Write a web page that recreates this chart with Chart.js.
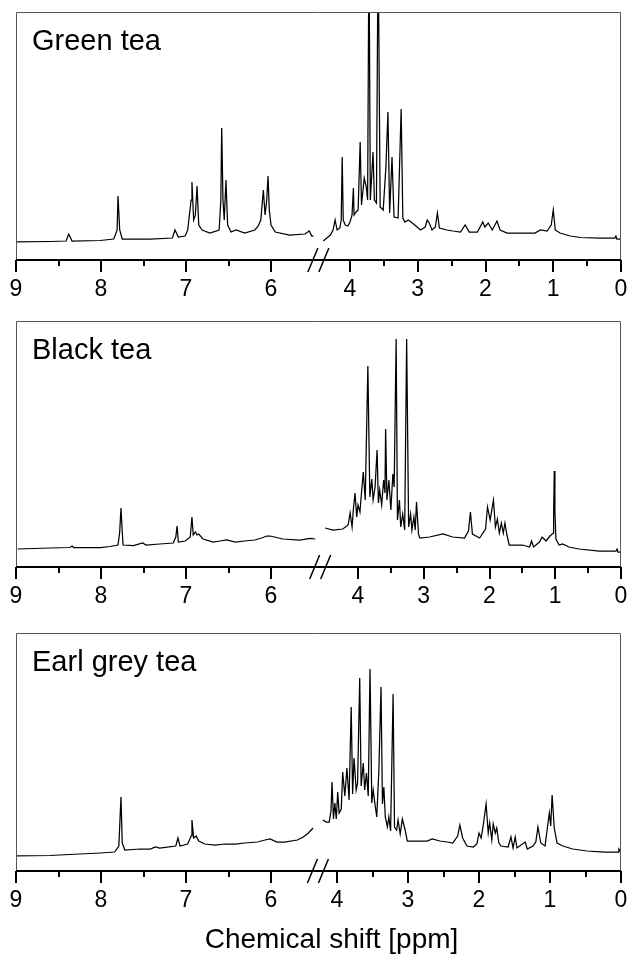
<!DOCTYPE html>
<html>
<head>
<meta charset="utf-8">
<script src="https://cdn.jsdelivr.net/npm/chart.js@4.4.1/dist/chart.umd.min.js"></script>
<style>
html, body { margin: 0; padding: 0; background: #fff; }
#wrap { position: relative; width: 629px; height: 955px; }
canvas { position: absolute; left: 0; }
</style>
</head>
<body>
<div id="wrap">
  <canvas id="green" width="629" height="305" style="top:0px"></canvas>
  <canvas id="black" width="629" height="307" style="top:305px"></canvas>
  <canvas id="earl" width="629" height="343" style="top:612px"></canvas>
</div>
<script>
// x ticks (ppm), both sides of the axis break
const tickValues = [9, 8.5, 8, 7.5, 7, 6.5, 6, 4, 3.5, 3, 2.5, 2, 1.5, 1, 0.5, 0];

// Green tea
const greenLeftPpm = [
  9.00, 8.60, 8.41, 8.38, 8.34, 8.01, 7.85, 7.81, 7.80, 7.78,
  7.75, 7.42, 7.16, 7.13, 7.09, 7.01, 6.98, 6.94, 6.93, 6.91,
  6.89, 6.87, 6.85, 6.81, 6.72, 6.61, 6.59, 6.58, 6.565, 6.55,
  6.53, 6.51, 6.47, 6.41, 6.31, 6.19, 6.15, 6.12, 6.09, 6.07,
  6.05, 6.035, 6.02, 6.00, 5.95, 5.78, 5.60, 5.55, 5.52, 5.50];
const greenLeftInt = [
  18, 18.5, 19, 26, 19, 19.5, 21, 30, 64, 30,
  21, 21, 22, 30, 23, 24, 30, 60, 78, 40,
  45, 74, 35, 30, 27, 30, 60, 132, 60, 40,
  80, 35, 28, 30, 27, 30, 34, 40, 70, 45,
  60, 84, 50, 35, 28, 25, 26, 29, 24, 24];
const greenRightPpm = [
  4.395, 4.29, 4.25, 4.22, 4.19, 4.15, 4.13, 4.115, 4.10, 4.07,
  4.03, 4.00, 3.97, 3.95, 3.94, 3.91, 3.88, 3.85, 3.83, 3.79,
  3.76, 3.74, 3.72, 3.70, 3.66, 3.64, 3.61, 3.585, 3.555, 3.51,
  3.47, 3.44, 3.415, 3.38, 3.35, 3.29, 3.245, 3.22, 3.19, 3.14,
  3.08, 3.01, 2.96, 2.89, 2.86, 2.83, 2.79, 2.74, 2.71, 2.68,
  2.57, 2.48, 2.37, 2.30, 2.24, 2.12, 2.04, 2.01, 1.96, 1.90,
  1.83, 1.785, 1.68, 1.56, 1.39, 1.27, 1.19, 1.09, 1.03, 1.00,
  0.97, 0.90, 0.75, 0.60, 0.31, 0.09, 0.075, 0.06, 0.00];
const greenRightInt = [
  19, 25, 30, 40, 30, 32, 40, 103, 40, 35,
  34, 38, 45, 72, 45, 48, 50, 118, 55, 82,
  73, 60, 320, 60, 108, 60, 57, 320, 53, 50,
  93, 148, 47, 103, 43, 42, 151, 42, 38, 40,
  37, 33, 30, 33, 40, 37, 30, 33, 47, 32,
  30, 29, 28, 35, 28, 28, 38, 33, 37, 30,
  39, 30, 27, 27, 27, 27, 30, 29, 35, 50,
  30, 27, 24, 22.5, 22, 22, 24, 21, 21];

// Black tea
const blackLeftPpm = [
  8.98, 8.60, 8.365, 8.34, 8.32, 8.01, 7.89, 7.80, 7.78, 7.765,
  7.75, 7.74, 7.62, 7.51, 7.47, 7.31, 7.15, 7.12, 7.105, 7.09,
  7.01, 6.95, 6.93, 6.915, 6.89, 6.87, 6.85, 6.80, 6.68, 6.60,
  6.52, 6.42, 6.31, 6.19, 6.11, 6.05, 6.01, 5.96, 5.86, 5.66,
  5.54, 5.48];
const blackLeftInt = [
  18, 19, 19.5, 21, 19.5, 19.5, 20.5, 22, 35, 59,
  35, 22, 21.5, 24, 22, 23, 24, 30, 41, 25,
  26, 30, 50, 32, 35, 32, 33, 28, 25, 26,
  27, 25, 26, 27, 29, 31, 31, 30, 28, 27,
  28.5, 28];
const blackRightPpm = [
  4.50, 4.38, 4.23, 4.15, 4.12, 4.09, 4.07, 4.045, 4.02, 4.00,
  3.97, 3.95, 3.92, 3.89, 3.85, 3.82, 3.79, 3.77, 3.74, 3.71,
  3.69, 3.67, 3.64, 3.61, 3.59, 3.58, 3.56, 3.53, 3.50, 3.47,
  3.45, 3.42, 3.40, 3.37, 3.35, 3.32, 3.29, 3.26, 3.23, 3.20,
  3.18, 3.15, 3.13, 3.11, 3.08, 3.06, 2.91, 2.71, 2.56, 2.38,
  2.32, 2.29, 2.26, 2.15, 2.06, 2.03, 1.99, 1.94, 1.91, 1.88,
  1.85, 1.82, 1.79, 1.765, 1.735, 1.70, 1.50, 1.39, 1.36, 1.33,
  1.24, 1.20, 1.14, 1.08, 1.03, 1.025, 1.015, 1.005, 0.99, 0.94,
  0.89, 0.79, 0.64, 0.33, 0.076, 0.06, 0.045, 0.00];
const blackRightInt = [
  39, 37, 38, 42, 54, 40, 58, 74, 50, 62,
  55, 72, 95, 67, 201, 70, 88, 67, 80, 117,
  64, 77, 62, 87, 74, 138, 67, 87, 57, 93,
  80, 228, 47, 67, 40, 53, 37, 228, 40, 53,
  37, 50, 37, 65, 33, 29, 30, 33, 30, 29,
  36, 55, 33, 29, 38, 60, 47, 67, 40, 48,
  34, 44, 34, 44, 32, 22, 22, 20, 26, 20,
  25, 30, 26, 31, 34, 50, 96, 55, 28, 22,
  23, 20, 18, 16, 16, 18, 15, 15];

// Earl grey tea
const earlLeftPpm = [
  9.00, 8.60, 8.25, 8.01, 7.84, 7.79, 7.765, 7.75, 7.72, 7.54,
  7.42, 7.36, 7.31, 7.12, 7.095, 7.07, 6.98, 6.94, 6.93, 6.91,
  6.88, 6.85, 6.78, 6.66, 6.54, 6.42, 6.31, 6.16, 6.07, 6.01,
  5.93, 5.84, 5.69, 5.62, 5.56, 5.505];
const earlLeftInt = [
  15, 15.5, 17, 18, 19, 25, 74, 28, 21, 22,
  22, 24, 23, 25, 33, 25, 27, 35, 51, 33,
  35, 30, 27, 26, 27, 27, 28, 29, 31, 32,
  29, 29, 31, 34, 38, 43];
const earlRightPpm = [
  4.20, 4.15, 4.11, 4.085, 4.07, 4.05, 4.03, 4.01, 3.99, 3.97,
  3.94, 3.92, 3.89, 3.86, 3.83, 3.80, 3.78, 3.76, 3.73, 3.71,
  3.68, 3.66, 3.63, 3.61, 3.585, 3.56, 3.535, 3.51, 3.49, 3.46,
  3.44, 3.41, 3.38, 3.36, 3.34, 3.32, 3.29, 3.27, 3.245, 3.21,
  3.19, 3.16, 3.14, 3.11, 3.08, 3.04, 3.01, 2.93, 2.83, 2.73,
  2.66, 2.55, 2.45, 2.37, 2.30, 2.27, 2.23, 2.17, 2.08, 2.03,
  2.00, 1.97, 1.94, 1.90, 1.87, 1.85, 1.82, 1.80, 1.77, 1.75,
  1.72, 1.69, 1.59, 1.55, 1.52, 1.49, 1.465, 1.35, 1.32, 1.24,
  1.20, 1.17, 1.13, 1.07, 1.01, 0.99, 0.97, 0.94, 0.90, 0.82,
  0.68, 0.48, 0.23, 0.04, 0.03, 0.00];
const earlRightInt = [
  51, 49, 49, 60, 89, 52, 68, 52, 79, 58,
  62, 99, 75, 103, 71, 164, 77, 113, 81, 88,
  193, 85, 108, 81, 98, 75, 202, 68, 81, 64,
  54, 101, 184, 67, 84, 54, 44, 54, 40, 177,
  44, 41, 51, 37, 52, 41, 30, 30, 30, 30,
  32, 30, 29, 28, 35, 46, 33, 25, 24, 27,
  38, 33, 46, 67, 38, 48, 31, 47, 38, 43,
  28, 25, 24, 34, 23, 34, 23, 29, 22, 25,
  29, 44, 28, 25, 58, 45, 76, 43, 28, 25,
  22, 20, 19, 19, 22, 19];

const FONT = '"Liberation Sans", Arial, sans-serif';

// linear ppm axis with a break: values above `split` use the left scale,
// the rest use the right scale (0 at the right edge)
class BrokenScale extends Chart.LinearScale {
  buildTicks() {
    return this.options.brk.marks.map(v => ({ value: v }));
  }
  getPixelForValue(v) {
    const b = this.options.brk;
    const w = this.right - this.left;
    if (v > b.split) return this.left + (9 - v) * w / b.leftSpan;
    return this.right - v * w / b.rightSpan;
  }
  getValueForPixel(px) {
    const b = this.options.brk;
    const w = this.right - this.left;
    const v = 9 - (px - this.left) * b.leftSpan / w;
    return v > b.split ? v : (this.right - px) * b.rightSpan / w;
  }
}
BrokenScale.id = 'broken';
BrokenScale.defaults = Chart.LinearScale.defaults;
Chart.register(BrokenScale);

// frame, ticks, break marks and texts
const framePlugin = {
  id: 'frame',
  afterDraw(chart, args, opts) {
    const ctx = chart.ctx, a = chart.chartArea, xs = chart.scales.x;
    ctx.save();
    ctx.strokeStyle = '#555';
    ctx.lineWidth = 1;
    ctx.beginPath();
    ctx.moveTo(a.left + 0.5, a.bottom);
    ctx.lineTo(a.left + 0.5, a.top + 0.5);
    ctx.lineTo(a.right - 0.5, a.top + 0.5);
    ctx.lineTo(a.right - 0.5, a.bottom);
    ctx.stroke();

    ctx.strokeStyle = '#000';
    ctx.lineWidth = 2;
    ctx.beginPath();
    ctx.moveTo(a.left, a.bottom);
    ctx.lineTo(a.right, a.bottom);
    xs.ticks.forEach(t => {
      const px = Math.round(xs.getPixelForValue(t.value));
      const len = Number.isInteger(t.value) ? 12 : 6;
      ctx.moveTo(px, a.bottom);
      ctx.lineTo(px, a.bottom + len);
    });
    ctx.stroke();

    // "//" between the two segments
    const ds = chart.data.datasets;
    const l = ds[0].data[ds[0].data.length - 1].x;
    const r = ds[1].data[0].x;
    const mid = (xs.getPixelForValue(l) + xs.getPixelForValue(r)) / 2;
    ctx.lineWidth = 1.5;
    ctx.beginPath();
    [-5.5, 5.5].forEach(d => {
      ctx.moveTo(mid + d - 5, a.bottom + 12);
      ctx.lineTo(mid + d + 5, a.bottom - 12);
    });
    ctx.stroke();

    ctx.fillStyle = '#000';
    ctx.font = '29px ' + FONT;
    ctx.textAlign = 'left';
    ctx.fillText(opts.name, a.left + 16, a.top + 38);
    if (opts.title) {
      ctx.font = '28px ' + FONT;
      ctx.textAlign = 'center';
      ctx.fillText(opts.title, (a.left + a.right) / 2 + 13, a.bottom + 77);
    }
    ctx.restore();
  }
};

const pts = (xs, ys) => xs.map((x, i) => ({ x: x, y: ys[i] }));

function makePanel(id, name, leftPpm, leftInt, rightPpm, rightInt, p) {
  const line = { borderColor: '#000', borderWidth: 1.25, pointRadius: 0, tension: 0, fill: false };
  return new Chart(document.getElementById(id), {
    type: 'line',
    data: {
      datasets: [
        Object.assign({ data: pts(leftPpm, leftInt) }, line),
        Object.assign({ data: pts(rightPpm, rightInt) }, line)
      ]
    },
    options: {
      responsive: false,
      animation: false,
      events: [],
      layout: { padding: { left: 16, right: 8, top: p.padTop, bottom: 0 } },
      plugins: {
        legend: { display: false },
        tooltip: { enabled: false },
        frame: { name: name, title: p.title || '' }
      },
      scales: {
        x: {
          type: 'broken',
          min: 0,
          max: 9,
          brk: { split: 5, leftSpan: 605 / 85, rightSpan: p.rightSpan, marks: tickValues },
          grid: { display: false, drawTicks: false },
          border: { display: false },
          ticks: {
            autoSkip: false,
            maxRotation: 0,
            padding: 16,
            color: '#000',
            font: { family: FONT, size: 23 },
            callback: v => Number.isInteger(v) ? String(v) : ''
          },
          afterFit: s => {
            s.height = p.axisH;
            s.paddingLeft = 0;
            s.paddingRight = 0;
          }
        },
        y: { display: false, min: 0, max: p.yMax }
      }
    },
    plugins: [framePlugin]
  });
}

makePanel('green', 'Green tea', greenLeftPpm, greenLeftInt, greenRightPpm, greenRightInt,
  { padTop: 12, axisH: 45, rightSpan: 605 / 67.75, yMax: 248 });
makePanel('black', 'Black tea', blackLeftPpm, blackLeftInt, blackRightPpm, blackRightInt,
  { padTop: 16, axisH: 45, rightSpan: 605 / 65.75, yMax: 246 });
makePanel('earl', 'Earl grey tea', earlLeftPpm, earlLeftInt, earlRightPpm, earlRightInt,
  { padTop: 21, axisH: 84, rightSpan: 605 / 71, yMax: 238, title: 'Chemical shift [ppm]' });
</script>
</body>
</html>
